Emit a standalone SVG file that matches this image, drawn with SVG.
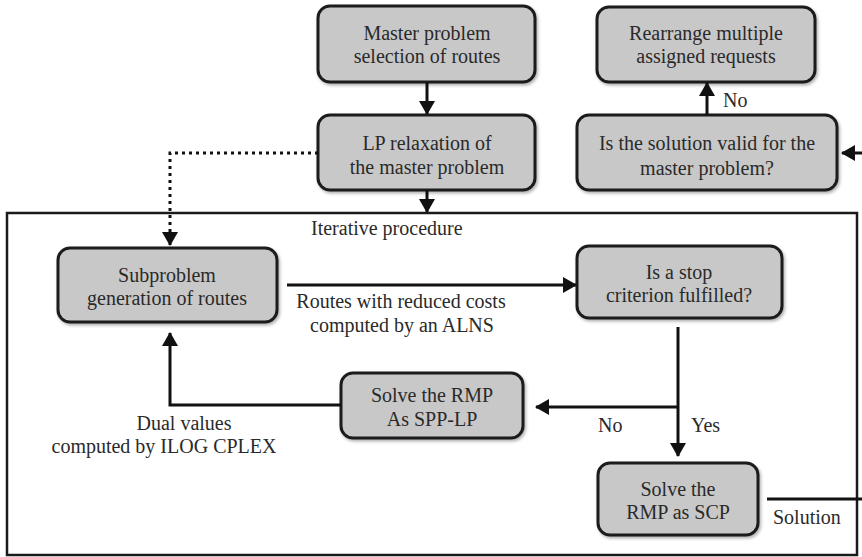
<svg xmlns="http://www.w3.org/2000/svg" width="862" height="557" viewBox="0 0 862 557">
  <style>
    .box { fill: #c8c8c8; stroke: #1a1a1a; stroke-width: 3; }
    .frame { fill: none; stroke: #1a1a1a; stroke-width: 2.5; }
    .conn { fill: none; stroke: #111; stroke-width: 3; }
    .dot { fill: none; stroke: #111; stroke-width: 3; stroke-dasharray: 3 4; }
    text { font-family: "Liberation Serif", "Times New Roman", serif; font-size: 20px; fill: #2a2a2a; }
    .c { text-anchor: middle; }
  </style>
  <defs>
    <filter id="shadow" x="-10%" y="-10%" width="125%" height="130%">
      <feDropShadow dx="1.5" dy="2" stdDeviation="1.5" flood-color="#000" flood-opacity="0.3"/>
    </filter>
    <marker id="arrow" markerUnits="userSpaceOnUse" markerWidth="14" markerHeight="16" refX="13" refY="8" orient="auto">
      <path d="M0,0 L14,8 L0,16 z" fill="#111"/>
    </marker>
  </defs>

  <rect class="frame" x="7" y="213" width="850" height="342"/>
  <text x="311" y="235">Iterative procedure</text>

  <g id="master">
    <rect class="box" filter="url(#shadow)" x="318" y="6" width="217" height="76" rx="12"/>
    <text class="c" x="427" y="40">Master problem</text>
    <text class="c" x="427" y="63">selection of routes</text>
  </g>

  <g id="lp-relaxation">
    <rect class="box" filter="url(#shadow)" x="318" y="115" width="217" height="75" rx="12"/>
    <text class="c" x="427" y="150">LP relaxation of</text>
    <text class="c" x="427" y="174">the master problem</text>
  </g>

  <g id="rearrange">
    <rect class="box" filter="url(#shadow)" x="597" y="7" width="218" height="75" rx="12"/>
    <text class="c" x="706" y="40">Rearrange multiple</text>
    <text class="c" x="706" y="63">assigned requests</text>
  </g>

  <g id="valid-check">
    <rect class="box" filter="url(#shadow)" x="577" y="115" width="260" height="75" rx="12"/>
    <text class="c" x="707" y="150">Is the solution valid for the</text>
    <text class="c" x="707" y="175">master problem?</text>
  </g>

  <g id="subproblem">
    <rect class="box" filter="url(#shadow)" x="58" y="248" width="219" height="74" rx="12"/>
    <text class="c" x="167" y="282">Subproblem</text>
    <text class="c" x="167" y="305">generation of routes</text>
  </g>

  <g id="stop-criterion">
    <rect class="box" filter="url(#shadow)" x="577" y="246" width="205" height="72" rx="12"/>
    <text class="c" x="679" y="279">Is a stop</text>
    <text class="c" x="679" y="302">criterion fulfilled?</text>
  </g>

  <g id="solve-spp">
    <rect class="box" filter="url(#shadow)" x="341" y="373" width="182" height="65" rx="12"/>
    <text class="c" x="432" y="402">Solve the RMP</text>
    <text class="c" x="432" y="426">As SPP-LP</text>
  </g>

  <g id="solve-scp">
    <rect class="box" filter="url(#shadow)" x="598" y="463" width="160" height="72" rx="12"/>
    <text class="c" x="678" y="496">Solve the</text>
    <text class="c" x="678" y="519">RMP as SCP</text>
  </g>

  <g id="connectors">
    <path class="conn" d="M427,82 V114" marker-end="url(#arrow)"/>
    <path class="conn" d="M427,190 V212" marker-end="url(#arrow)"/>
    <path class="dot" d="M318,153 H170 V245" marker-end="url(#arrow)"/>
    <path class="conn" d="M707,115 V83" marker-end="url(#arrow)"/>
    <path class="conn" d="M862,153 H842" marker-end="url(#arrow)"/>
    <path class="conn" d="M287,285 H576" marker-end="url(#arrow)"/>
    <path class="conn" d="M678,327 V456" marker-end="url(#arrow)"/>
    <path class="conn" d="M678,407 H536" marker-end="url(#arrow)"/>
    <path class="conn" d="M341,405 H170 V333" marker-end="url(#arrow)"/>
    <path class="conn" d="M767,499 H862"/>
  </g>

  <g id="labels">
    <text x="723" y="107">No</text>
    <text class="c" x="401" y="308">Routes with reduced costs</text>
    <text class="c" x="402" y="332">computed by an ALNS</text>
    <text x="598" y="432">No</text>
    <text x="691" y="432">Yes</text>
    <text class="c" x="184" y="430">Dual values</text>
    <text class="c" x="164" y="453">computed by ILOG  CPLEX</text>
    <text x="773" y="524">Solution</text>
  </g>
</svg>
